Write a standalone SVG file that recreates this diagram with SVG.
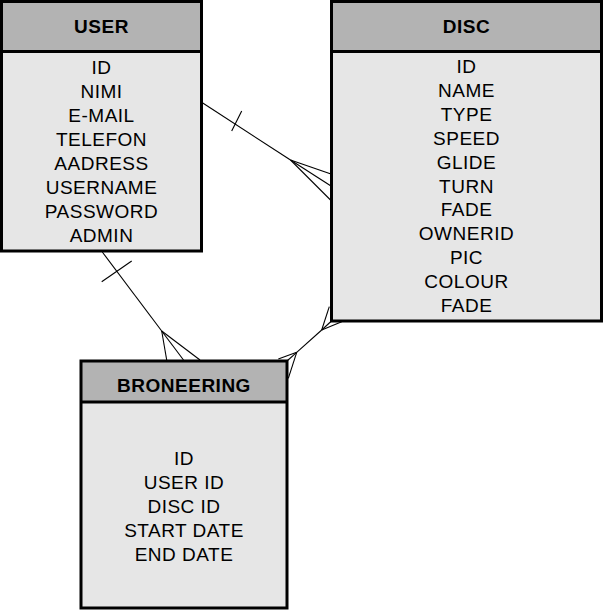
<svg xmlns="http://www.w3.org/2000/svg" width="603" height="611" viewBox="0 0 603 611">
<style>
.hdr{fill:#b3b3b3}
.body{fill:#e6e6e6}
.frame{fill:none;stroke:#000;stroke-width:3}
.sep{stroke:#000;stroke-width:3}
.title{font-family:"Liberation Sans",Arial,sans-serif;font-size:19px;font-weight:bold;fill:#000;text-anchor:middle;letter-spacing:0.5px}
.item{font-family:"Liberation Sans",Arial,sans-serif;font-size:19px;fill:#000;text-anchor:middle;letter-spacing:0.5px}
.edge{fill:none;stroke:#000;stroke-width:1.1}
</style>
<rect width="603" height="611" fill="#fff"/>
<g id="connectors">
<g id="user-disc">
<line class="edge" x1="202" y1="102.5" x2="290.5" y2="160"/>
<line class="edge" x1="231.7" y1="131" x2="241.7" y2="111"/>
<line class="edge" x1="290.5" y1="160" x2="331" y2="174"/>
<line class="edge" x1="290.5" y1="160" x2="331" y2="186"/>
<line class="edge" x1="290.5" y1="160" x2="331" y2="200.5"/>
</g>
<g id="user-broneering">
<line class="edge" x1="102.3" y1="252" x2="161.7" y2="331"/>
<line class="edge" x1="101.7" y1="281.7" x2="131.7" y2="261"/>
<line class="edge" x1="161.7" y1="331" x2="166.7" y2="360"/>
<line class="edge" x1="161.7" y1="331" x2="183.5" y2="360"/>
<line class="edge" x1="161.7" y1="331" x2="200" y2="360"/>
</g>
<g id="disc-broneering">
<line class="edge" x1="296.7" y1="352.3" x2="321.7" y2="330"/>
<line class="edge" x1="321.7" y1="330" x2="329.3" y2="306.7"/>
<line class="edge" x1="321.7" y1="330" x2="331.5" y2="321"/>
<line class="edge" x1="321.7" y1="330" x2="341.7" y2="321.7"/>
<line class="edge" x1="296.7" y1="352.3" x2="278.3" y2="359"/>
<line class="edge" x1="296.7" y1="352.3" x2="287" y2="361"/>
<line class="edge" x1="296.7" y1="352.3" x2="288.3" y2="378.3"/>
</g>
</g>
<g id="user">
<rect class="hdr" x="1.5" y="1.5" width="200" height="50"/>
<rect class="body" x="1.5" y="51.5" width="200" height="199.5"/>
<rect class="frame" x="1.5" y="1.5" width="200" height="249.5"/>
<line class="sep" x1="1.5" y1="51.5" x2="201.5" y2="51.5"/>
<text class="title" x="101.5" y="33">USER</text>
<text class="item" x="101.5" y="74">ID</text>
<text class="item" x="101.5" y="98">NIMI</text>
<text class="item" x="101.5" y="122">E-MAIL</text>
<text class="item" x="101.5" y="146">TELEFON</text>
<text class="item" x="101.5" y="170">AADRESS</text>
<text class="item" x="101.5" y="194">USERNAME</text>
<text class="item" x="101.5" y="218">PASSWORD</text>
<text class="item" x="101.5" y="242">ADMIN</text>
</g>
<g id="disc">
<rect class="hdr" x="331.5" y="1.5" width="270" height="50"/>
<rect class="body" x="331.5" y="51.5" width="270" height="269.5"/>
<rect class="frame" x="331.5" y="1.5" width="270" height="319.5"/>
<line class="sep" x1="331.5" y1="51.5" x2="601.5" y2="51.5"/>
<text class="title" x="466.5" y="33">DISC</text>
<text class="item" x="466.5" y="73">ID</text>
<text class="item" x="466.5" y="97">NAME</text>
<text class="item" x="466.5" y="120.8">TYPE</text>
<text class="item" x="466.5" y="144.7">SPEED</text>
<text class="item" x="466.5" y="168.6">GLIDE</text>
<text class="item" x="466.5" y="192.5">TURN</text>
<text class="item" x="466.5" y="216.4">FADE</text>
<text class="item" x="466.5" y="240.3">OWNERID</text>
<text class="item" x="466.5" y="264.2">PIC</text>
<text class="item" x="466.5" y="288.1">COLOUR</text>
<text class="item" x="466.5" y="312">FADE</text>
</g>
<g id="broneering">
<rect class="hdr" x="81" y="361" width="206" height="41"/>
<rect class="body" x="81" y="402" width="206" height="206"/>
<rect class="frame" x="81" y="361" width="206" height="247"/>
<line class="sep" x1="81" y1="402" x2="287" y2="402"/>
<text class="title" x="184" y="392">BRONEERING</text>
<text class="item" x="184" y="465">ID</text>
<text class="item" x="184" y="489">USER ID</text>
<text class="item" x="184" y="513">DISC ID</text>
<text class="item" x="184" y="537">START DATE</text>
<text class="item" x="184" y="561">END DATE</text>
</g>
</svg>
